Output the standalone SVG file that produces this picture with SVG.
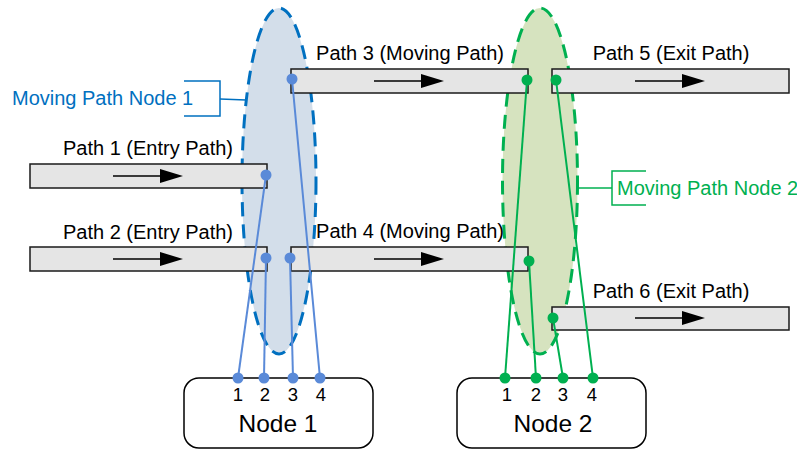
<svg xmlns="http://www.w3.org/2000/svg" width="797" height="449" viewBox="0 0 797 449">
<style>
text{font-family:"Liberation Sans",Arial,sans-serif;fill:#000}
.pl{font-size:20px;text-anchor:middle}
.pn{font-size:18.5px;text-anchor:middle}
.nl{font-size:24.5px;text-anchor:middle}
.bar{fill:#e5e5e5;stroke:#1a1a1a;stroke-width:1.5}
.box{fill:#fff;stroke:#000;stroke-width:1.5}
.mb{fill:#d3deea;stroke:#0070c0;stroke-width:3;stroke-dasharray:14 8}
.mg{fill:#d6e3bf;stroke:#00b050;stroke-width:3;stroke-dasharray:14 8}
.cb{stroke:#5a8ad8;stroke-width:2;fill:none}
.cg{stroke:#00b050;stroke-width:2;fill:none}
.db{fill:#5a8ad8}
.dg{fill:#00b050}
.bb{stroke:#0070c0;stroke-width:1.5;fill:none}
.bg{stroke:#00b050;stroke-width:1.5;fill:none}
</style>
<defs>
<g id="arr"><line x1="0" y1="0" x2="50" y2="0" stroke="#000" stroke-width="1.5"/><polygon points="47,-7 70,0 47,7" fill="#000"/></g>
</defs>

<g id="mpn1">
<ellipse class="mb" cx="279" cy="181" rx="37" ry="173"/>
<polyline class="bb" points="184,81 220,81 220,116 184,116"/>
<line class="bb" x1="220" y1="99" x2="246" y2="100"/>
<text x="12" y="105" style="font-size:20px;fill:#0070c0">Moving Path Node 1</text>
</g>
<g id="mpn2">
<ellipse class="mg" cx="540" cy="181" rx="37.5" ry="173"/>
<polyline class="bg" points="646,171 612,171 612,205 646,205"/>
<line class="bg" x1="577" y1="188" x2="612" y2="188"/>
<text x="617" y="195" style="font-size:20px;fill:#00b050">Moving Path Node 2</text>
</g>

<g id="path1">
<rect class="bar" x="30" y="164" width="237" height="24"/>
<use href="#arr" x="113" y="176"/>
<text class="pl" x="148" y="155">Path 1 (Entry Path)</text>
</g>
<g id="path2">
<rect class="bar" x="30" y="247" width="237" height="24"/>
<use href="#arr" x="113" y="259"/>
<text class="pl" x="148" y="239">Path 2 (Entry Path)</text>
</g>
<g id="path3">
<rect class="bar" x="291" y="69" width="237" height="24"/>
<use href="#arr" x="374" y="81"/>
<text class="pl" x="410" y="60">Path 3 (Moving Path)</text>
</g>
<g id="path4">
<rect class="bar" x="291" y="247" width="237" height="24"/>
<use href="#arr" x="374" y="259"/>
<text class="pl" x="410" y="238">Path 4 (Moving Path)</text>
</g>
<g id="path5">
<rect class="bar" x="552" y="69" width="237" height="24"/>
<use href="#arr" x="635" y="81"/>
<text class="pl" x="671" y="60">Path 5 (Exit Path)</text>
</g>
<g id="path6">
<rect class="bar" x="552" y="307" width="237" height="23"/>
<use href="#arr" x="635" y="318"/>
<text class="pl" x="671" y="298">Path 6 (Exit Path)</text>
</g>

<g id="node1">
<rect class="box" x="184" y="378" width="189" height="70" rx="15"/>
<text class="pn" x="238" y="401">1</text>
<text class="pn" x="265" y="401">2</text>
<text class="pn" x="293" y="401">3</text>
<text class="pn" x="321" y="401">4</text>
<text class="nl" x="278" y="432">Node 1</text>
</g>
<g id="node2">
<rect class="box" x="457" y="378" width="189" height="70" rx="15"/>
<text class="pn" x="507" y="401">1</text>
<text class="pn" x="536" y="401">2</text>
<text class="pn" x="563" y="401">3</text>
<text class="pn" x="592" y="401">4</text>
<text class="nl" x="553" y="432">Node 2</text>
</g>

<g id="connectors">
<line class="cb" x1="238" y1="378" x2="266" y2="175"/>
<line class="cb" x1="264" y1="378" x2="266" y2="258"/>
<line class="cb" x1="293" y1="378" x2="290" y2="258"/>
<line class="cb" x1="320" y1="378" x2="292" y2="79"/>
<circle class="db" cx="266" cy="175" r="5.5"/>
<circle class="db" cx="266" cy="258" r="5.5"/>
<circle class="db" cx="290" cy="258" r="5.5"/>
<circle class="db" cx="292" cy="79" r="5.5"/>
<circle class="db" cx="238" cy="378" r="5.5"/>
<circle class="db" cx="264" cy="378" r="5.5"/>
<circle class="db" cx="293" cy="378" r="5.5"/>
<circle class="db" cx="320" cy="378" r="5.5"/>
<line class="cg" x1="505" y1="378" x2="527" y2="80"/>
<line class="cg" x1="536" y1="378" x2="529" y2="261"/>
<line class="cg" x1="563" y1="378" x2="553" y2="318"/>
<line class="cg" x1="593" y1="378" x2="556" y2="80"/>
<circle class="dg" cx="527" cy="80" r="5.5"/>
<circle class="dg" cx="529" cy="261" r="5.5"/>
<circle class="dg" cx="553" cy="318" r="5.5"/>
<circle class="dg" cx="556" cy="80" r="5.5"/>
<circle class="dg" cx="505" cy="378" r="5.5"/>
<circle class="dg" cx="536" cy="378" r="5.5"/>
<circle class="dg" cx="563" cy="378" r="5.5"/>
<circle class="dg" cx="593" cy="378" r="5.5"/>
</g>
</svg>
